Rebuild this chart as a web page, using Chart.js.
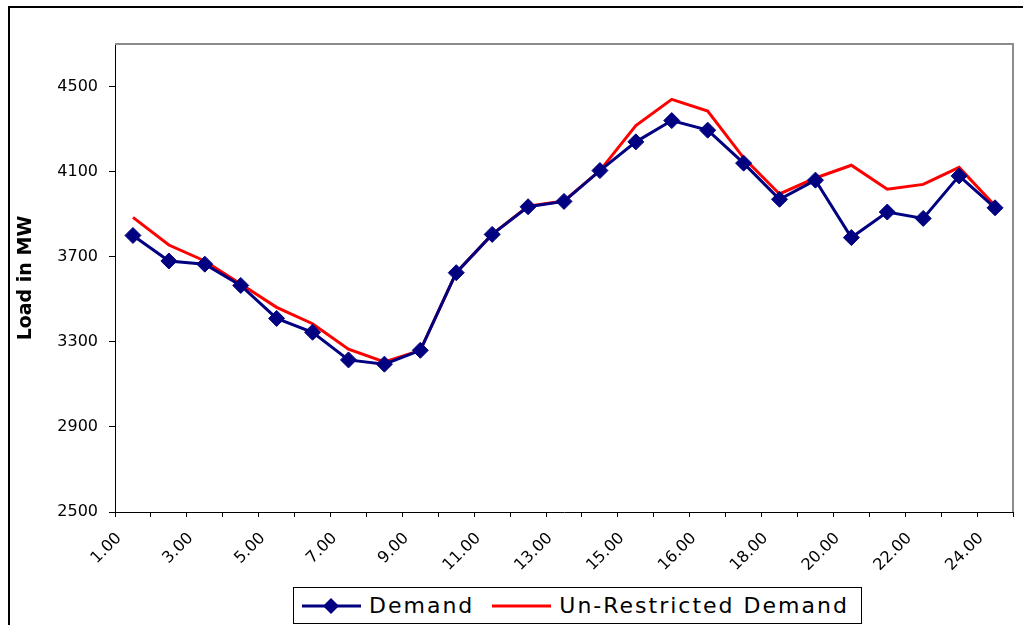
<!DOCTYPE html>
<html>
<head>
<meta charset="utf-8">
<script src="https://cdn.jsdelivr.net/npm/chart.js@4.4.1/dist/chart.umd.min.js"></script>
<style>
    body { margin: 0; background: #fff; }
    #wrap { position: relative; width: 1023px; height: 625px; overflow: hidden; }
    #frame { position: absolute; left: 8px; top: 6px; width: 1100px; height: 700px; border: 2px solid #000; }
    #loadChart { position: absolute; left: 0; top: 0; }
    #legend {
        position: absolute; left: 293px; top: 587px; width: 567px; height: 35px;
        border: 1px solid #000; background: #fff;
        display: flex; align-items: center;
        font: 22px "DejaVu Sans", sans-serif; letter-spacing: 2px; color: #000;
    }
    #legend .item { display: flex; align-items: center; }
    #legend svg { display: block; }
</style>
</head>
<body>
<div id="wrap">
    <div id="frame"></div>
    <canvas id="loadChart" width="1023" height="625"></canvas>
    <div id="legend"></div>
</div>
<script>
const hours = ["1.00", "2.00", "3.00", "4.00", "5.00", "6.00", "7.00", "8.00", "9.00", "10.00",
    "11.00", "12.00", "13.00", "14.00", "15.00", "15.30", "16.00", "17.00", "18.00", "19.00",
    "20.00", "21.00", "22.00", "23.00", "24.00"];
const demand = [3800, 3680, 3665, 3565, 3410, 3345, 3215, 3195, 3260, 3625, 3805, 3935, 3960,
    4105, 4240, 4340, 4295, 4140, 3970, 4060, 3790, 3910, 3880, 4080, 3930];
const unrestricted = [3885, 3755, 3680, 3572, 3462, 3385, 3265, 3205, 3260, 3625, 3805, 3938, 3962,
    4105, 4317, 4440, 4385, 4165, 3995, 4070, 4130, 4017, 4040, 4120, 3940];
const yTicks = [2500, 2900, 3300, 3700, 4100, 4500];

const plotFrame = {
    id: "plotFrame",
    afterDraw(chart) {
        const { ctx, chartArea } = chart;
        ctx.save();
        ctx.strokeStyle = "#8c8c8c";
        ctx.lineWidth = 2;
        ctx.beginPath();
        ctx.moveTo(chartArea.left, chartArea.top);
        ctx.lineTo(chartArea.right, chartArea.top);
        ctx.lineTo(chartArea.right, chartArea.bottom);
        ctx.stroke();
        ctx.restore();
    },
};

const chart = new Chart(document.getElementById("loadChart"), {
    type: "line",
    data: {
        labels: hours,
        datasets: [
            {
                label: "Demand",
                data: demand,
                borderColor: "#000080",
                backgroundColor: "#000080",
                borderWidth: 3,
                pointStyle: "rectRot",
                pointRadius: 8,
                pointBorderWidth: 1,
                tension: 0,
            },
            {
                label: "Un-Restricted Demand",
                data: unrestricted,
                borderColor: "#ff0000",
                backgroundColor: "#ff0000",
                borderWidth: 3,
                pointRadius: 0,
                tension: 0,
            },
        ],
    },
    options: {
        responsive: false,
        animation: false,
        layout: { padding: { top: 44, right: 10, left: 12, bottom: 0 } },
        plugins: {
            legend: { display: false },
            tooltip: { enabled: false },
        },
        scales: {
            x: {
                offset: true,
                afterFit: (scale) => { scale.height = 113; },
                grid: { offset: true, drawOnChartArea: false, tickLength: 5, color: "#000" },
                border: { color: "#000", width: 1 },
                ticks: {
                    autoSkip: false,
                    minRotation: 45,
                    maxRotation: 45,
                    padding: 12,
                    labelOffset: -14,
                    color: "#000",
                    font: { family: "DejaVu Sans", size: 16 },
                    callback: (value, index) => (index % 2 === 0 ? hours[index] : ""),
                },
            },
            y: {
                min: 2500,
                max: 4700,
                afterFit: (scale) => { scale.width = 103; },
                afterBuildTicks: (scale) => {
                    scale.ticks = yTicks.map((v) => ({ value: v }));
                },
                grid: { drawOnChartArea: false, tickLength: 6, color: "#000" },
                border: { color: "#000", width: 1 },
                ticks: {
                    padding: 11,
                    color: "#000",
                    font: { family: "DejaVu Sans", size: 16 },
                    callback: (value) => String(value),
                },
                title: {
                    display: true,
                    text: "Load in MW",
                    color: "#000",
                    padding: { top: 3, bottom: 0 },
                    font: { family: "DejaVu Sans", size: 19, weight: "bold" },
                },
            },
        },
    },
    plugins: [plotFrame],
});

// legend box like the spreadsheet one
const legend = document.getElementById("legend");
chart.data.datasets.forEach((ds, i) => {
    const item = document.createElement("div");
    item.className = "item";
    item.style.marginLeft = i === 0 ? "8px" : "18px";
    let sample = '<svg width="59" height="20"><line x1="0" y1="10" x2="59" y2="10" stroke="' +
        ds.borderColor + '" stroke-width="3"/>';
    if (ds.pointRadius > 0) {
        sample += '<polygon points="29,2 37,10 29,18 21,10" fill="' + ds.backgroundColor + '"/>';
    }
    sample += "</svg>";
    item.innerHTML = sample + '<span style="margin-left:8px">' + ds.label + "</span>";
    legend.appendChild(item);
});
</script>
</body>
</html>
